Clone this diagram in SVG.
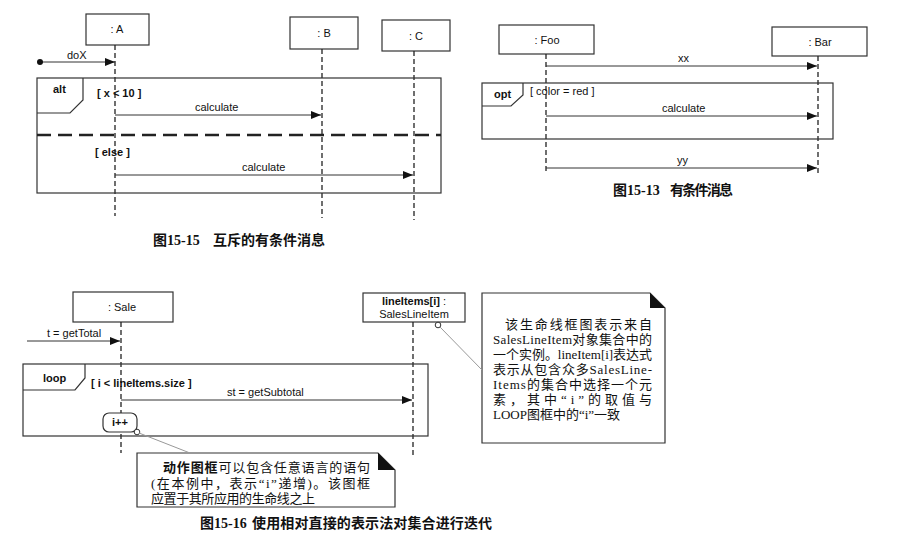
<svg xmlns="http://www.w3.org/2000/svg" width="900" height="548" viewBox="0 0 900 548">
<defs>
<marker id="arr" markerUnits="userSpaceOnUse" markerWidth="10" markerHeight="8" refX="10" refY="4" orient="auto"><path d="M0,0 L10,4 L0,8 z" fill="#111"/></marker>
<marker id="dot" markerUnits="userSpaceOnUse" markerWidth="7" markerHeight="7" refX="3.5" refY="3.5"><circle cx="3.5" cy="3.5" r="3" fill="#111"/></marker>
<style>
.box{fill:#fff;stroke:#333;stroke-width:1.2}
.frame{fill:none;stroke:#333;stroke-width:1.2}
.life{stroke:#222;stroke-width:1.3;stroke-dasharray:5 3;fill:none}
.msg{stroke:#333;stroke-width:1;fill:none;marker-end:url(#arr)}
.lbl{font-family:"Liberation Sans",Arial,sans-serif;font-size:11px;fill:#111}
.b{font-weight:bold}
.cap{font-family:"Liberation Serif","Noto Sans CJK SC",serif;font-size:14px;font-weight:bold;fill:#111}
.note{font-family:"Liberation Serif","Noto Sans CJK SC",serif;font-size:13px;fill:#111}
.anch{stroke:#999;stroke-width:1;fill:none}
</style>
</defs>
<rect width="900" height="548" fill="#fff"/>

<!-- Figure 15-15 -->
<g id="A"><rect class="box" x="86" y="14" width="63" height="31"/><text class="lbl" x="117" y="33" text-anchor="middle">: A</text><line class="life" x1="115" y1="45" x2="115" y2="216"/></g>
<g id="B"><rect class="box" x="290" y="17" width="68" height="32"/><text class="lbl" x="324" y="37" text-anchor="middle">: B</text><line class="life" x1="322" y1="49" x2="322" y2="218"/></g>
<g id="C"><rect class="box" x="382" y="20" width="68" height="31"/><text class="lbl" x="416" y="40" text-anchor="middle">: C</text><line class="life" x1="414" y1="51" x2="414" y2="220"/></g>
<g id="alt">
<rect class="frame" x="37" y="78" width="404" height="115"/>
<path class="frame" d="M37,113 L70,113 L83,100 L83,78"/>
<text class="lbl b" x="53" y="93">alt</text>
<text class="lbl b" x="97" y="97">[ x &lt; 10 ]</text>
<line x1="37" y1="135" x2="441" y2="135" stroke="#222" stroke-width="2.5" stroke-dasharray="14 7"/>
<text class="lbl b" x="95" y="156">[ else ]</text>
</g>
<text class="cap" x="153" y="245">图15-15<tspan x="213" textLength="112">互斥的有条件消息</tspan></text>

<!-- Figure 15-13 -->
<g id="Foo"><rect class="box" x="499" y="25" width="95" height="29"/><text class="lbl" x="547" y="44" text-anchor="middle">: Foo</text><line class="life" x1="546" y1="54" x2="546" y2="172"/></g>
<g id="Bar"><rect class="box" x="772" y="27" width="95" height="29"/><text class="lbl" x="820" y="46" text-anchor="middle">: Bar</text><line class="life" x1="818" y1="56" x2="818" y2="174"/></g>
<g id="opt">
<rect class="frame" x="482" y="83" width="351" height="56"/>
<path class="frame" d="M482,106 L511,106 L523,95 L523,83"/>
<text class="lbl b" x="494" y="98">opt</text>
<text class="lbl" x="530" y="95">[ color = red ]</text>
</g>
<text class="cap" x="613" y="195">图15-13<tspan x="670" textLength="63">有条件消息</tspan></text>

<!-- Figure 15-16 -->
<g id="Sale"><rect class="box" x="73" y="292" width="100" height="30"/><text class="lbl" x="122" y="311" text-anchor="middle">: Sale</text><line class="life" x1="121" y1="322" x2="121" y2="453"/></g>
<g id="LineItem"><rect class="box" x="363" y="293" width="102" height="29"/><text class="lbl" x="414" y="305" text-anchor="middle"><tspan class="b">lineItems[i]</tspan> :</text><text class="lbl" x="414" y="318" text-anchor="middle">SalesLineItem</text><line class="life" x1="413" y1="322" x2="413" y2="455"/><circle cx="438" cy="325" r="2.8" fill="#fff" stroke="#333" stroke-width="1"/></g>
<g id="loop">
<rect class="frame" x="23" y="364" width="405" height="72"/>
<path class="frame" d="M23,390 L75,390 L85,378 L85,364"/>
<text class="lbl b" x="43" y="382">loop</text>
<text class="lbl b" x="91" y="387">[ i &lt; lineItems.size ]</text>
</g>
<g id="inc"><rect x="103" y="413" width="34" height="19" rx="6" fill="#fff" stroke="#333" stroke-width="1.2"/><text class="lbl b" x="120" y="426" text-anchor="middle">i++</text><circle cx="137" cy="432" r="2.8" fill="#fff" stroke="#333" stroke-width="1"/></g>

<g id="note1">
<path d="M137,453 L378,453 L395,470 L395,507 L137,507 Z" fill="#fff" stroke="#333" stroke-width="1.2"/>
<path d="M378,453 L378,470 L395,470 Z" fill="#111"/>
<text class="note" x="163" y="472" textLength="207"><tspan font-weight="bold">动作图框</tspan>可以包含任意语言的语句</text>
<text class="note" x="151" y="488" textLength="219">(在本例中，表示“i”递增)。该图框</text>
<text class="note" x="151" y="503" textLength="164">应置于其所应用的生命线之上</text>
</g>
<g id="note2">
<path d="M482,293 L650,293 L665,308 L665,443 L482,443 Z" fill="#fff" stroke="#333" stroke-width="1.2"/>
<path d="M650,293 L650,308 L665,308 Z" fill="#111"/>
<text class="note" x="505" y="329" textLength="147">该生命线框图表示来自</text>
<text class="note" x="493" y="344" textLength="159">SalesLineItem对象集合中的</text>
<text class="note" x="493" y="359" textLength="159">一个实例。lineItem[i]表达式</text>
<text class="note" x="493" y="374" textLength="159">表示从包含众多SalesLine-</text>
<text class="note" x="493" y="389" textLength="159">Items的集合中选择一个元</text>
<text class="note" x="493" y="404" textLength="159">素，其中“i”的取值与</text>
<text class="note" x="493" y="419">LOOP图框中的“i”一致</text>
</g>
<text class="cap" x="200" y="528">图15-16<tspan x="252" textLength="240">使用相对直接的表示法对集合进行迭代</tspan></text>

<g id="connectors">
<line class="msg" x1="40" y1="62" x2="115" y2="62" marker-start="url(#dot)"/>
<text class="lbl" x="67" y="59">doX</text>
<line class="msg" x1="115" y1="115" x2="321" y2="115"/>
<text class="lbl" x="195" y="111" font-size="10">calculate</text>
<line class="msg" x1="115" y1="175" x2="413" y2="175"/>
<text class="lbl" x="242" y="171" font-size="10">calculate</text>
<line class="msg" x1="546" y1="66" x2="817" y2="66"/>
<text class="lbl" x="678" y="62" font-size="10">xx</text>
<line class="msg" x1="546" y1="116" x2="817" y2="116"/>
<text class="lbl" x="662" y="112" font-size="10">calculate</text>
<line class="msg" x1="546" y1="168" x2="817" y2="168"/>
<text class="lbl" x="677" y="164" font-size="10">yy</text>
<line class="msg" x1="27" y1="341" x2="120" y2="341"/>
<text class="lbl" x="47" y="337">t = getTotal</text>
<line class="msg" x1="121" y1="400" x2="412" y2="400"/>
<text class="lbl" x="227" y="396">st = getSubtotal</text>
<line class="anch" x1="139" y1="433" x2="190" y2="453"/>
<line class="anch" x1="440" y1="327" x2="482" y2="370"/>
</g>
</svg>
